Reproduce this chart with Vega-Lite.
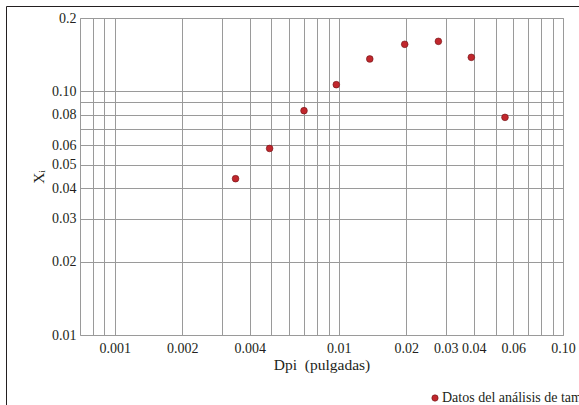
{
  "$schema": "https://vega.github.io/schema/vega-lite/v6.json",
  "width": 483,
  "height": 317,
  "autosize": {"type": "none"},
  "padding": {"left": 80, "top": 18, "right": 16, "bottom": 70},
  "background": "white",
  "config": {
    "font": "Liberation Serif",
    "view": {"stroke": "#9a9a9a", "strokeWidth": 1},
    "axis": {
      "domain": false,
      "ticks": false,
      "grid": true,
      "gridColor": "#9a9a9a",
      "gridOpacity": 1,
      "gridWidth": 1,
      "labelFont": "Liberation Serif",
      "labelFontSize": 14,
      "labelColor": "#231f20",
      "titleFont": "Liberation Serif",
      "titleFontWeight": "normal",
      "titleColor": "#231f20",
      "titleFontSize": 15.5,
      "labelOverlap": false,
      "labelFlush": false
    }
  },
  "data": {
    "values": [
      {"dpi": 0.00346, "xi": 0.0438, "serie": "Datos del análisis de tamizado"},
      {"dpi": 0.00491, "xi": 0.0583, "serie": "Datos del análisis de tamizado"},
      {"dpi": 0.00699, "xi": 0.0833, "serie": "Datos del análisis de tamizado"},
      {"dpi": 0.00974, "xi": 0.1065, "serie": "Datos del análisis de tamizado"},
      {"dpi": 0.01374, "xi": 0.1358, "serie": "Datos del análisis de tamizado"},
      {"dpi": 0.01967, "xi": 0.156, "serie": "Datos del análisis de tamizado"},
      {"dpi": 0.0278, "xi": 0.1604, "serie": "Datos del análisis de tamizado"},
      {"dpi": 0.03899, "xi": 0.1379, "serie": "Datos del análisis de tamizado"},
      {"dpi": 0.0551, "xi": 0.0782, "serie": "Datos del análisis de tamizado"}
    ]
  },
  "mark": {"type": "circle", "opacity": 1, "stroke": "#6b1416", "strokeWidth": 0.6, "size": 45},
  "encoding": {
    "x": {
      "field": "dpi",
      "type": "quantitative",
      "scale": {"type": "log", "domain": [0.0007, 0.1], "nice": false, "zero": false},
      "axis": {
        "title": "Dpi\u00a0\u00a0(pulgadas)",
        "values": [0.0008, 0.0009, 0.001, 0.002, 0.003, 0.004, 0.005, 0.006, 0.007, 0.008, 0.009, 0.01, 0.02, 0.03, 0.04, 0.05, 0.06, 0.07, 0.08, 0.09, 0.1],
        "labelExpr": "indexof([0.001, 0.002, 0.004, 0.01, 0.02, 0.03, 0.04, 0.06, 0.1], datum.value) < 0 ? '' : (datum.value < 0.009 ? format(datum.value, '.3f') : format(datum.value, '.2f'))",
        "labelPadding": 6,
        "titlePadding": 2
      }
    },
    "y": {
      "field": "xi",
      "type": "quantitative",
      "scale": {"type": "log", "domain": [0.01, 0.2], "nice": false, "zero": false},
      "axis": {
        "title": "Xᵢ",
        "values": [0.01, 0.02, 0.03, 0.04, 0.05, 0.06, 0.07, 0.08, 0.09, 0.1, 0.2],
        "labelExpr": "(datum.value == 0.07 || datum.value == 0.09) ? '' : (datum.value == 0.2 ? '0.2' : format(datum.value, '.2f'))",
        "labelPadding": 4,
        "titlePadding": 5
      }
    },
    "color": {
      "field": "serie",
      "type": "nominal",
      "scale": {"range": ["#c1272d"]},
      "legend": {
        "title": null,
        "orient": "none",
        "legendX": -74,
        "legendY": -12,
        "padding": 385,
        "strokeColor": "#231f20",
        "symbolType": "circle",
        "symbolSize": 40,
        "symbolStrokeColor": "#6b1416",
        "symbolStrokeWidth": 0.6,
        "symbolOffset": 37,
        "labelOffset": 0,
        "labelFontSize": 14,
        "labelColor": "#231f20",
        "labelLimit": 500,
        "encode": {"legend": {"update": {"strokeWidth": {"value": 2}, "stroke": {"value": "#231f20"}}}}
      }
    }
  }
}
